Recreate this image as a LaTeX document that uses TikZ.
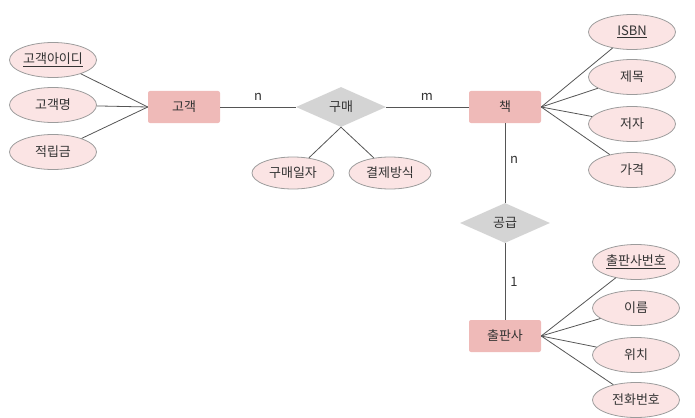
\documentclass[tikz,border=0pt]{standalone}
\usepackage{fontspec}
\setmainfont{Noto Sans CJK KR}
\usetikzlibrary{shapes.geometric}
\definecolor{entfill}{HTML}{EFBAB8}
\definecolor{attrfill}{HTML}{FBE4E4}
\definecolor{attrline}{HTML}{9C9C9C}
\definecolor{relfill}{HTML}{D4D4D4}
\definecolor{lienc}{HTML}{555555}
\definecolor{textc}{HTML}{333333}

\begin{document}
\begin{tikzpicture}[x=1pt,y=-1pt,
  font=\fontsize{13}{15}\selectfont, text=textc,
  ent/.style={rectangle,rounded corners=2pt,fill=entfill,minimum width=72pt,minimum height=32pt,inner sep=0pt},
  attr/.style={ellipse,draw=attrline,fill=attrfill,line width=0.8pt,minimum width=87pt,minimum height=35pt,inner sep=0pt},
  rel/.style={diamond,fill=relfill,aspect=2.2,minimum width=90pt,minimum height=40pt,inner sep=0pt},
  lien/.style={draw=lienc,line width=0.8pt},
  card/.style={inner sep=0pt}]
\useasboundingbox (0,0) rectangle (695,417);
% entites et relations
\node[ent] (client) at (184,107) {고객};
\node[ent] (livre) at (505,107) {책};
\node[ent] (editeur) at (505,336) {출판사};
\node[rel] (achat) at (341,107) {구매};
\node[rel] (fourn) at (505,223) {공급};
% attributs
\node[attr] (cid) at (53,60) {\underline{고객아이디}};
\node[attr] (cnom) at (53,105) {고객명};
\node[attr] (cpts) at (53,152) {적립금};
\node[attr,minimum width=82pt,minimum height=32pt] (adate) at (293,173) {구매일자};
\node[attr,minimum width=82pt,minimum height=32pt] (apay) at (390,173) {결제방식};
\node[attr] (isbn) at (632,32) {\underline{ISBN}};
\node[attr] (titre) at (632,77) {제목};
\node[attr] (auteur) at (632,124) {저자};
\node[attr] (prix) at (632,170) {가격};
\node[attr] (eid) at (636,262) {\underline{출판사번호}};
\node[attr] (enom) at (636,308) {이름};
\node[attr] (lieu) at (636,355) {위치};
\node[attr] (tel) at (636,400) {전화번호};
% liens
\draw[lien] (client) -- (achat) -- (livre);
\draw[lien] (livre) -- (fourn) -- (editeur);
\foreach \a in {cid,cnom,cpts} \draw[lien] (client.west) -- (\a);
\foreach \a in {adate,apay} \draw[lien] (achat.south) -- (\a);
\foreach \a in {isbn,titre,auteur,prix} \draw[lien] (livre.east) -- (\a);
\foreach \a in {eid,enom,lieu,tel} \draw[lien] (editeur.east) -- (\a);
% cardinalites
\node[card] (c1) at (258,97) {n};
\node[card] (c2) at (427,97) {m};
\node[card] (c3) at (514,160) {n};
\node[card] (c4) at (514,282) {1};
\end{tikzpicture}
\end{document}
